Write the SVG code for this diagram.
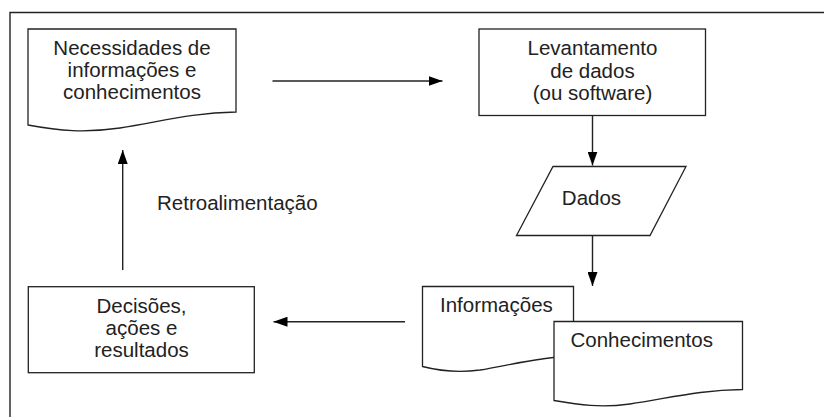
<svg xmlns="http://www.w3.org/2000/svg" width="824" height="417" viewBox="0 0 824 417">
<defs>
<marker id="ah" markerWidth="14" markerHeight="10" refX="14" refY="5" orient="auto" markerUnits="userSpaceOnUse">
<path d="M0,0 L14,5 L0,10 Z" fill="#000"/>
</marker>
<style>
.s{fill:#fff;stroke:#222;stroke-width:1.3}
.c{fill:none;stroke:#222;stroke-width:1.4}
text{font-family:"Liberation Sans",Arial,sans-serif;font-size:20.5px;fill:#222}
.m{text-anchor:middle}
</style>
</defs>
<rect width="824" height="417" fill="#fff"/>
<g id="frame">
<path d="M824,12.5 H10 V417" class="c" stroke="#444"/>
</g>
<g id="necessidades">
<path class="s" d="M28,29 H236 V112 C190,113 160,122 120,128 C85,133 60,131 28,125 Z"/>
<text class="m" x="132" y="55">Necessidades de</text>
<text class="m" x="132" y="77">informações e</text>
<text class="m" x="132" y="99">conhecimentos</text>
</g>
<g id="levantamento">
<rect class="s" x="479" y="29" width="226.5" height="86.5"/>
<text class="m" x="592.5" y="55">Levantamento</text>
<text class="m" x="592.5" y="78">de dados</text>
<text class="m" x="592.5" y="100">(ou software)</text>
</g>
<g id="dados">
<path class="s" d="M553,166.5 H686 L650,235.5 H516.5 Z"/>
<text class="m" x="591.5" y="204.5">Dados</text>
</g>
<g id="informacoes">
<path class="s" d="M422.5,286.5 H573.5 V356 C540,357 510,365 480,370 C458,373 440,371 422.5,366.5 Z"/>
<text x="440" y="312">Informações</text>
</g>
<g id="conhecimentos">
<path class="s" d="M554,321.5 H742.5 V389.5 C700,390 670,398 630,404 C600,408 580,405 554,400.5 Z"/>
<text x="570.5" y="347">Conhecimentos</text>
</g>
<g id="decisoes">
<rect class="s" x="28.3" y="286.7" width="226" height="86"/>
<text class="m" x="141.5" y="313">Decisões,</text>
<text class="m" x="141.5" y="335">ações e</text>
<text class="m" x="141.5" y="357">resultados</text>
</g>
<g id="label">
<text x="157" y="210">Retroalimentação</text>
</g>
<g id="connectors">
<line class="c" x1="272.5" y1="81" x2="442.5" y2="81" marker-end="url(#ah)"/>
<line class="c" x1="592.5" y1="115.5" x2="592.5" y2="165.5" marker-end="url(#ah)"/>
<line class="c" x1="592.5" y1="235.5" x2="592.5" y2="286" marker-end="url(#ah)"/>
<line class="c" x1="405" y1="321.7" x2="273.5" y2="321.7" marker-end="url(#ah)"/>
<line class="c" x1="122.7" y1="270" x2="122.7" y2="150" marker-end="url(#ah)"/>
</g>
</svg>
